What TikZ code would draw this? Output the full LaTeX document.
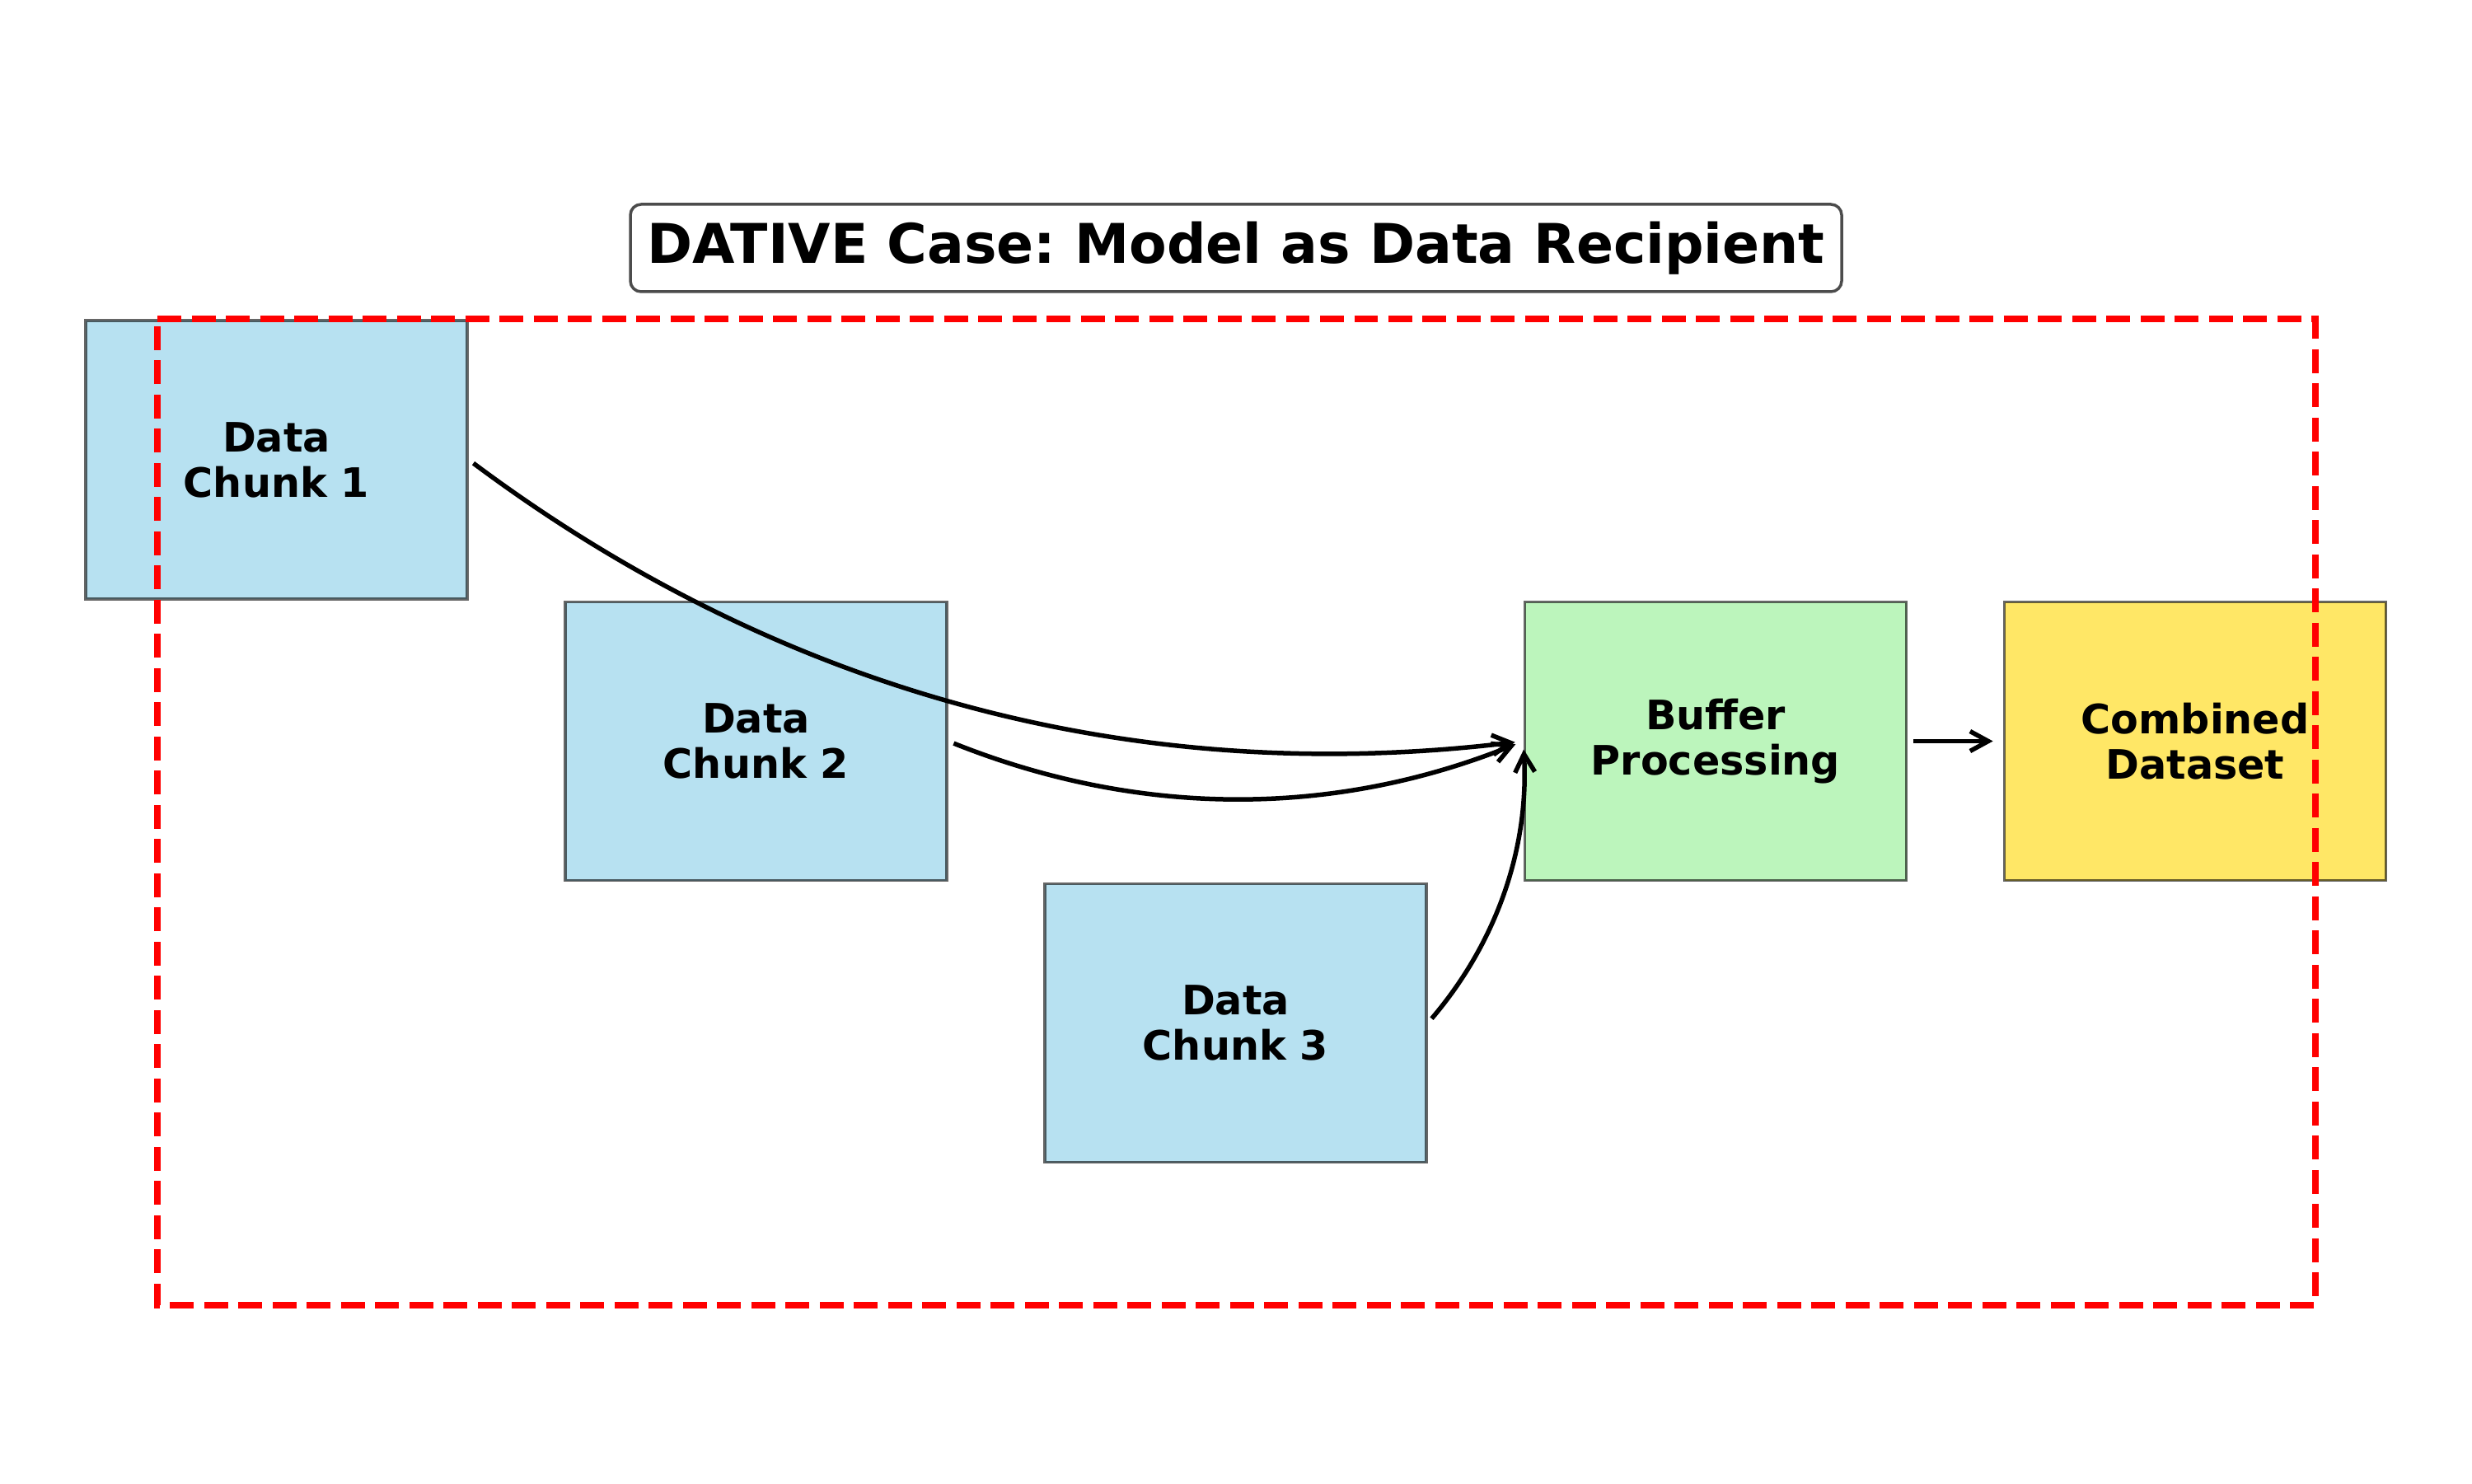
\documentclass[tikz,border=0pt]{standalone}
\usepackage{fontspec}
\setmainfont{DejaVu Sans}
\frenchspacing
\usetikzlibrary{arrows.meta}
\definecolor{chunkblue}{RGB}{183,225,241}
\definecolor{bufgreen}{RGB}{188,245,188}
\definecolor{combgold}{RGB}{255,231,102}
\definecolor{frame}{RGB}{255,0,0}
\tikzset{
  box/.style={draw=black, draw opacity=0.6, line width=0.038cm, minimum width=4.63cm, minimum height=3.38cm, inner sep=0pt, align=center, font=\fontsize{14}{15.6}\selectfont\bfseries},
  flow/.style={line width=0.055cm, black, -{Straight Barb[length=0.22cm, width=0.24cm, line width=0.055cm]}},
  curved/.style={flow, bend right=21.8, looseness=0.917, shorten <=0.07cm, shorten >=0.1cm},
  titlebox/.style={draw=black!70, line width=0.035cm, rounded corners=0.13cm, fill=white, minimum width=14.7cm, minimum height=1.06cm, inner sep=0pt, font=\fontsize{18.9}{22}\selectfont\bfseries},
  redframe/.style={draw=frame, line width=0.078cm, dash pattern=on 0.29cm off 0.125cm}
}
\begin{document}
\begin{tikzpicture}
\useasboundingbox (0,0) rectangle (30,18);
\node[box, fill=chunkblue] (c1) at (3.355,12.42) {Data\\Chunk 1};
\node[box, fill=chunkblue] (c2) at (9.175,9.005) {Data\\Chunk 2};
\node[box, fill=chunkblue] (c3) at (14.995,5.585) {Data\\Chunk 3};
\node[box, fill=bufgreen] (buf) at (20.82,9.005) {Buffer\\Processing};
\node[box, fill=combgold] (comb) at (26.64,9.005) {Combined\\Dataset};
\coordinate (rtl) at (1.91,14.13);
\coordinate (rbr) at (28.10,2.16);
\draw[redframe] (rtl) -- (rtl -| rbr) -- (rbr) -- (rbr -| rtl) -- cycle;
\node[titlebox] (title) at (15.0,14.99) {DATIVE Case: Model as Data Recipient};
\draw[curved] (c1.east) to (buf.west);
\draw[curved] (c2.east) to (buf.west);
\draw[curved] (c3.east) to (buf.west);
\draw[flow, shorten <=0.07cm, shorten >=0.12cm] (buf.east) -- (comb.west);
\end{tikzpicture}
\end{document}
